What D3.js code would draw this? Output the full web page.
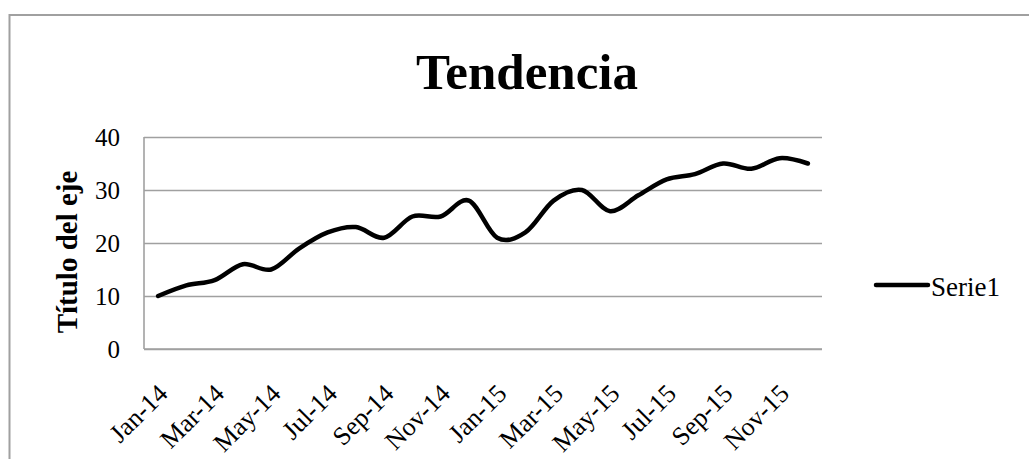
<!DOCTYPE html>
<html lang="es">
<head>
    <meta charset="UTF-8">
    <title>Tendencia</title>
    <script src="https://d3js.org/d3.v7.min.js"></script>
    <style>
        body { margin: 0; background-color: #ffffff; }
        svg { display: block; }
        text { font-family: "Liberation Serif", "Times New Roman", serif; fill: #000; }
    </style>
</head>
<body>
    <svg></svg>

    <script>
        // data
        const months = ["Jan-14","Feb-14","Mar-14","Apr-14","May-14","Jun-14","Jul-14","Aug-14",
                        "Sep-14","Oct-14","Nov-14","Dec-14","Jan-15","Feb-15","Mar-15","Apr-15",
                        "May-15","Jun-15","Jul-15","Aug-15","Sep-15","Oct-15","Nov-15","Dec-15"];
        const serie1 = [10, 12, 13, 16, 15, 19, 22, 23, 21, 25, 25, 28,
                        21, 22, 28, 30, 26, 29, 32, 33, 35, 34, 36, 35];
        const yTicks = [0, 10, 20, 30, 40];
        const seriesName = "Serie1";

        let width = 1029, height = 459;
        let svg = d3.select("svg")
            .attr("width", width)
            .attr("height", height);

        // chart border (runs off the right and bottom of the picture)
        svg.append("rect")
            .attr("x", 9.5).attr("y", 15)
            .attr("width", 1040).attr("height", 460)
            .attr("fill", "none")
            .attr("stroke", "#a0a0a0")
            .attr("stroke-width", 2);

        let plot = {left: 144, right: 822, top: 137, bottom: 349};

        let x = d3.scaleBand()
            .domain(months)
            .range([plot.left, plot.right])
            .padding(0);
        let y = d3.scaleLinear()
            .domain([0, 40])
            .range([plot.bottom, plot.top]);

        // gridlines
        svg.append("g")
            .attr("transform", "translate(" + plot.left + ",0)")
            .call(d3.axisLeft(y).tickValues(yTicks).tickSize(-(plot.right - plot.left)).tickFormat(""))
            .call(g => g.select(".domain").remove())
            .call(g => g.selectAll("line").attr("stroke", "#a0a0a0").attr("stroke-width", 1.6));

        // axis lines
        svg.append("line")
            .attr("x1", plot.left).attr("x2", plot.left)
            .attr("y1", plot.top).attr("y2", plot.bottom)
            .attr("stroke", "#a0a0a0").attr("stroke-width", 1.6);
        svg.append("line")
            .attr("x1", plot.left).attr("x2", plot.right)
            .attr("y1", plot.bottom).attr("y2", plot.bottom)
            .attr("stroke", "#a0a0a0").attr("stroke-width", 1.6);

        // y tick labels
        svg.append("g")
            .selectAll("text")
            .data(yTicks)
            .join("text")
            .attr("x", 120)
            .attr("y", d => y(d) + 9)
            .attr("text-anchor", "end")
            .attr("font-size", 25)
            .text(d => d);

        // x tick labels, every second month, rotated
        svg.append("g")
            .selectAll("text")
            .data(months.filter((m, i) => i % 2 == 0))
            .join("text")
            .attr("transform", d => "translate(" + (x(d) + x.bandwidth() / 2 + 11) + "," + (plot.bottom + 46) + ") rotate(-45)")
            .attr("text-anchor", "end")
            .attr("font-size", 26)
            .text(d => d);

        // the series line
        let line = d3.line()
            .x((d, i) => x(months[i]) + x.bandwidth() / 2)
            .y(d => y(d))
            .curve(d3.curveCatmullRom.alpha(0));
        svg.append("path")
            .datum(serie1)
            .attr("d", line)
            .attr("fill", "none")
            .attr("stroke", "#000")
            .attr("stroke-width", 4.5)
            .attr("stroke-linecap", "round")
            .attr("stroke-linejoin", "round");

        // title
        svg.append("text")
            .attr("x", 527)
            .attr("y", 89)
            .attr("text-anchor", "middle")
            .attr("font-size", 51)
            .attr("font-weight", "bold")
            .text("Tendencia");

        // y axis title
        svg.append("text")
            .attr("transform", "translate(77,252) rotate(-90)")
            .attr("text-anchor", "middle")
            .attr("font-size", 29)
            .attr("font-weight", "bold")
            .text("Título del eje");

        // legend
        svg.append("line")
            .attr("x1", 876).attr("x2", 928)
            .attr("y1", 285).attr("y2", 285)
            .attr("stroke", "#000")
            .attr("stroke-width", 4.5)
            .attr("stroke-linecap", "round");
        svg.append("text")
            .attr("x", 931)
            .attr("y", 296)
            .attr("font-size", 27)
            .text(seriesName);
    </script>
</body>
</html>
